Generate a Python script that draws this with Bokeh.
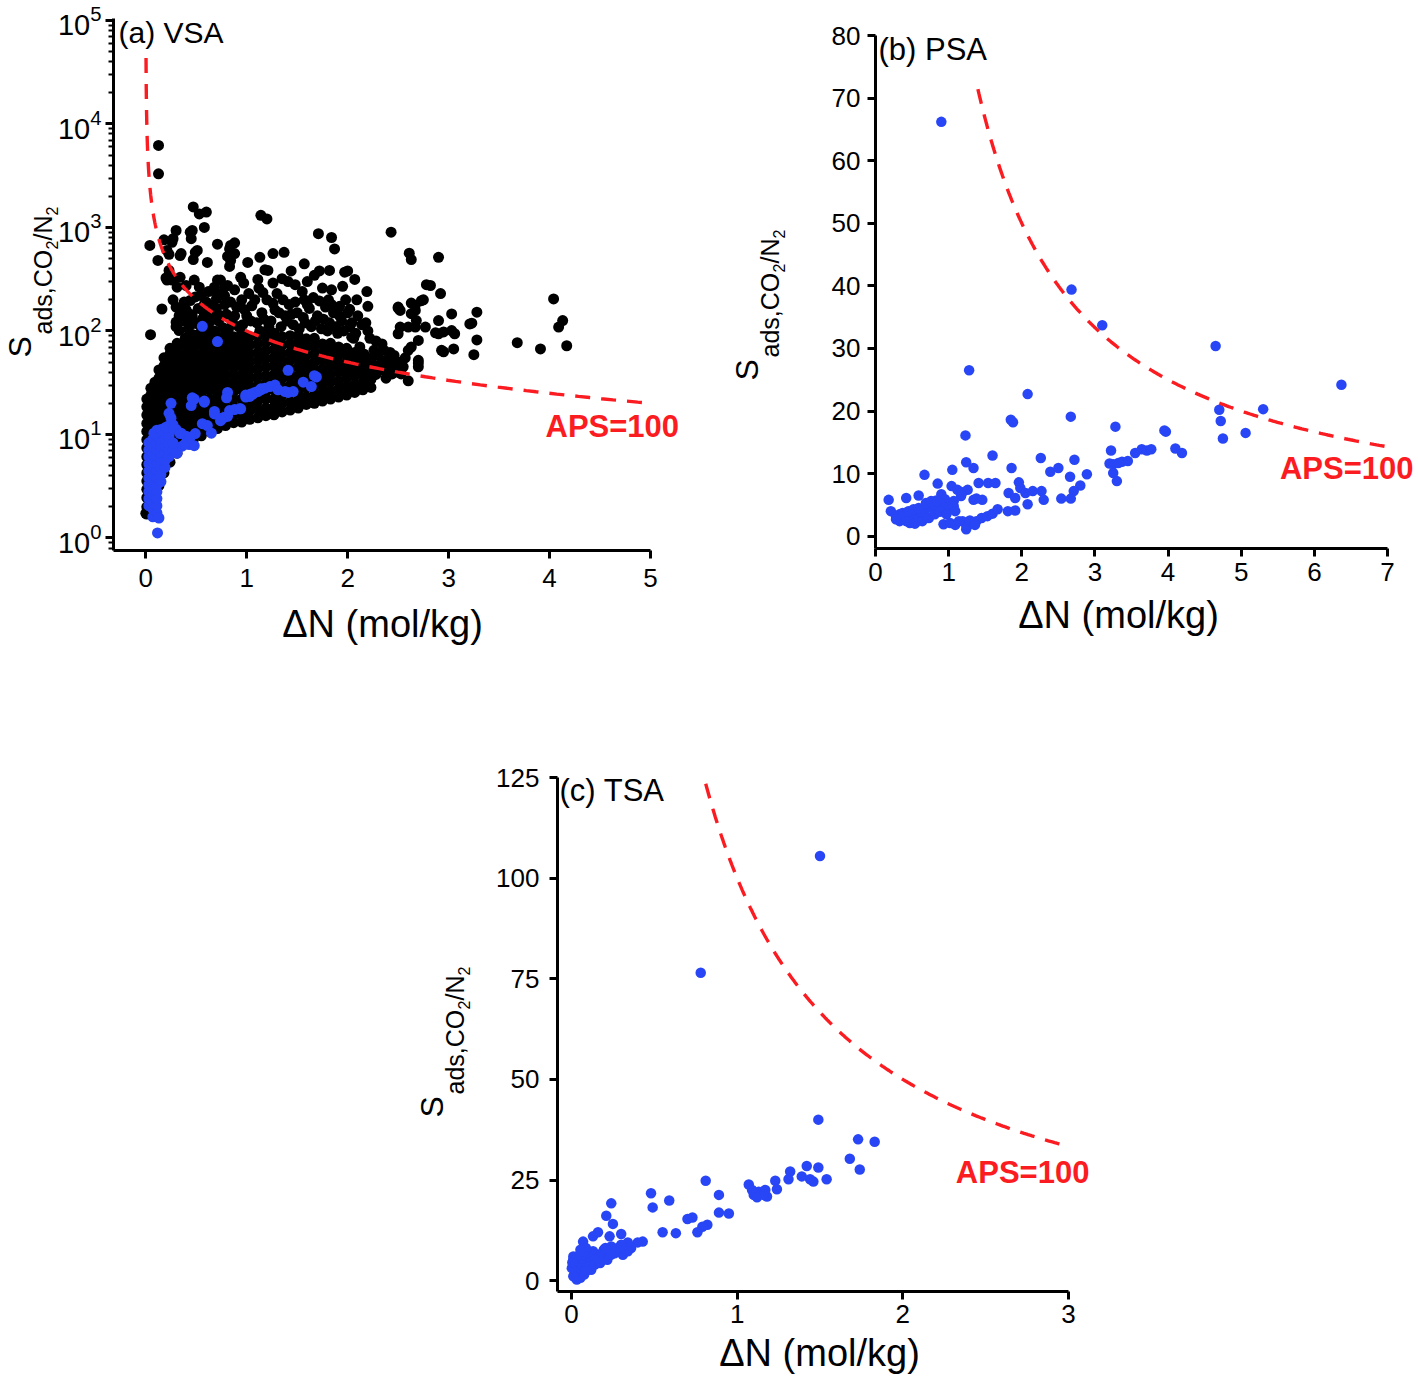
import numpy as np
from bokeh.plotting import figure
from bokeh.models import Label, Range1d, FixedTicker
from bokeh.layouts import column, row
from bokeh.embed import file_html
from bokeh.resources import INLINE

# ------------------------------------------------------------------ data
aps_level = 100.0

# (a) VSA  -- dense core of the black cloud, read column by column (dN, list of S)
vsa_core_dn = [0.01, 0.05, 0.09, 0.13, 0.18, 0.24, 0.31, 0.39, 0.47, 0.55, 0.63, 0.71, 0.79, 0.87, 0.95, 1.03,
               1.11, 1.19, 1.27, 1.35, 1.43, 1.51, 1.59, 1.67, 1.75, 1.83, 1.91, 1.99, 2.07, 2.15, 2.23]
vsa_core_s = [
    [1.7, 2.0, 2.45, 2.95, 3.55, 4.25, 5.1, 6.1, 7.4, 8.9, 10.7, 12.8, 15.4, 18.5, 22],
    [1.85, 2.2, 2.7, 3.2, 3.9, 4.65, 5.6, 6.7, 8.1, 9.7, 11.7, 14, 16.9, 20, 24, 28],
    [2.45, 2.95, 3.55, 4.25, 5.1, 6.1, 7.4, 8.9, 10.7, 12.8, 15.4, 18.5, 22, 27, 32],
    [3.2, 3.9, 4.65, 5.6, 6.7, 8.1, 9.7, 11.7, 14, 16.9, 20, 24, 29, 35, 42],
    [4.25, 5.1, 6.1, 7.4, 8.9, 10.7, 12.8, 15.4, 18.5, 22, 27, 32, 38, 46, 55],
    [5.4, 6.7, 8.1, 9.7, 11.7, 14, 16.9, 20, 24, 29, 35, 42, 50, 60, 68],
    [6.6, 7.6, 8.9, 10.7, 12.8, 15.4, 18.5, 22, 27, 32, 38, 46, 55, 66, 76],
    [8.1, 9.7, 11.7, 14, 16.9, 20, 24, 29, 35, 42, 50, 60, 73, 85],
    [8.9, 10.7, 12.8, 15.4, 18.5, 22, 27, 32, 38, 46, 55, 66, 80, 92],
    [9.7, 11.7, 14, 16.9, 20, 24, 29, 35, 42, 50, 60, 73, 88],
    [10.7, 12.8, 15.4, 18.5, 22, 27, 32, 38, 46, 55, 66, 80, 92],
    [11.4, 14, 16.9, 20, 24, 29, 35, 42, 50, 60, 73, 88],
    [12.2, 15, 18.5, 22, 27, 32, 38, 46, 55, 66, 80, 92],
    [13, 15.5, 18.5, 22, 26, 31, 37, 44, 52, 62, 74, 88],
    [13.2, 15.4, 18.5, 22, 27, 32, 38, 46, 55, 66, 80, 95],
    [14, 16.9, 20, 24, 29, 35, 42, 50, 60, 73, 88],
    [14.5, 17.5, 21, 25, 30, 36, 43, 52, 62, 75, 90],
    [15.2, 18, 22, 26, 31, 37, 45, 54, 65, 78, 93],
    [15.5, 18.5, 22, 27, 32, 38, 46, 55, 66, 80, 95],
    [16.5, 20, 24, 29, 35, 42, 50, 60, 73, 88],
    [17.2, 20.5, 25, 30, 36, 43, 52, 62, 75, 90],
    [18, 21.5, 26, 31, 37, 45, 54, 65, 78, 90],
    [19.5, 23, 28, 33, 40, 48, 58, 70, 84],
    [20, 24, 29, 35, 42, 50, 60, 72, 85],
    [21, 25, 30, 36, 43, 52, 62, 75],
    [22, 26.5, 32, 38, 46, 55, 66, 76],
    [23, 27.5, 33, 40, 48, 58, 70],
    [24, 29, 35, 42, 50, 60, 68],
    [25.5, 30.5, 37, 44, 53, 62],
    [27, 32, 39, 47, 56],
    [28.5, 34, 41, 49],
]

# (a) VSA -- black points above / around the core
vsa_black_dn = [0.30, 0.36, 0.42, 0.46, 0.50, 0.40, 0.56, 0.62, 0.66, 0.72, 0.76, 0.80, 0.86, 0.90, 0.60, 0.70, 0.84,
                0.96, 1.00, 1.05, 1.10, 1.15, 1.20, 1.24, 1.28, 1.02, 1.12, 1.30, 1.34, 1.38, 1.42, 1.46, 1.50, 1.55,
                1.58, 1.62, 1.66, 1.70, 1.74, 1.78, 1.82, 1.86, 1.90, 1.94, 1.98, 2.02, 2.06, 2.10, 2.12, 2.16, 2.20,
                2.24, 2.28, 2.32, 2.36, 2.40, 2.18,
                0.33, 0.38, 0.44, 0.52, 0.55, 0.58, 0.64, 0.68, 0.70, 0.74, 0.78, 0.82, 0.88, 0.92, 0.95, 0.98,
                1.04, 1.08, 1.13, 1.17, 1.22, 1.26, 1.32, 1.36, 1.40, 1.44, 1.48, 1.52, 1.56, 1.60, 1.64, 1.68,
                1.72, 1.76, 1.80, 1.84, 1.88, 1.92, 1.96, 2.00, 2.04, 2.08, 2.14, 2.22, 2.26, 2.30, 2.34, 2.38,
                2.42, 2.46, 0.62, 0.88, 1.16, 1.48, 1.75, 1.95, 0.55, 0.97, 1.35, 1.60, 2.28, 2.35, 2.42, 2.38,
                2.50, 2.55, 2.57,
                0.126, 0.126, 0.47, 0.53, 0.60, 0.58, 1.14, 1.20, 0.04, 0.12, 0.18, 0.27, 0.30, 0.21, 0.35, 0.46,
                0.45, 0.51, 0.47, 0.71, 0.61, 0.83, 0.88, 0.84, 1.01, 1.13, 1.21, 1.26, 1.37, 1.71, 1.84, 1.87, 1.57,
                1.67, 1.82, 1.97, 0.22, 0.31, 0.40, 0.71, 0.81, 0.94, 2.43, 2.61, 2.63, 2.90, 2.82, 2.92, 3.03, 2.73,
                2.67, 2.63, 2.68, 2.60, 2.52, 2.50, 2.77, 2.90, 2.95, 3.03, 3.06, 2.93, 3.05, 3.21, 2.70, 2.60, 2.70,
                2.60, 2.50, 2.70, 4.04, 4.13, 4.09, 4.17, 3.91, 3.68, 3.28, 3.23, 3.28, 3.25, 2.95, 2.90, 2.47, 2.53,
                2.67, 2.52, 2.50, 2.63, 0.26, 0.34, 0.44, 0.49, 0.84, 0.23, 0.21, 0.26, 0.34, 0.48, 0.53, 0.49, 0.68,
                0.74, 0.71, 0.78, 0.58, 0.16, 0.047, 0.30, 0.34, 0.39, 0.30, 0.33, 0.44, 0.64, 0.78, 0.94, 1.18, 0.88,
                0.81, 0.83, 1.11, 1.44, 1.72, 2.00, 2.07, 1.84, 1.81, 1.57, 1.41, 1.26, 2.19, 2.09, 2.20, 2.02, 1.92,
                2.50, 2.63, 2.78, 2.75, 2.87, 2.67, 2.70, 2.45, 2.44, 2.47, 2.30, 2.24, 2.14, 2.04, 0.23, 0.20, 0.27,
                0.38, 0.45, 0.0]
vsa_black_s = [110, 125, 105, 140, 118, 160, 130, 112, 150, 125, 108, 145, 120, 170, 190, 205, 190,
               115, 140, 175, 120, 150, 200, 125, 160, 230, 260, 230, 110, 140, 180, 115, 150, 240,
               120, 165, 210, 140, 105, 170, 120, 150, 95, 125, 200, 110, 85, 140, 70, 60, 100,
               55, 80, 47, 65, 40, 120,
               140, 190, 115, 165, 100, 145, 125, 100, 165, 140, 180, 105, 140, 110, 200, 160,
               125, 200, 100, 130, 110, 185, 150, 200, 125, 145, 190, 105, 135, 180, 110, 125,
               195, 130, 100, 180, 110, 140, 100, 150, 120, 95, 115, 85, 65, 58, 75, 52,
               62, 58, 240, 250, 235, 280, 260, 270, 220, 290, 320, 300, 38, 42, 47, 35,
               50, 45, 55,
               6200, 3300, 1580, 1350, 1410, 1000, 1310, 1210, 670, 480, 760, 780, 935, 600, 560, 935,
               780, 600, 490, 690, 460, 620, 560, 480, 460, 515, 385, 560, 575, 870, 800, 620, 445,
               345, 385, 370, 330, 265, 275, 310, 275, 330, 900, 565, 490, 515, 275, 230, 146, 196,
               177, 147, 126, 109, 109, 170, 109, 126, 98, 101, 94, 65, 67, 117, 81, 65, 45,
               33, 40, 52, 204, 126, 109, 72, 67, 77, 152, 119, 82, 59, 63, 94, 43, 38.5,
               158, 158, 94, 70, 720, 535, 900, 575, 670, 385, 310, 310, 330, 310, 265, 213, 265,
               310, 230, 265, 182, 163, 92, 170, 147, 131, 122, 101, 197, 177, 220, 170, 390, 710,
               525, 420, 315, 380, 380, 380, 315, 250, 200, 200, 300, 290, 240, 200, 173, 162, 173,
               166, 186, 280, 200, 96, 109, 49, 44, 38.5, 52, 45, 36, 60, 87, 550, 325, 200,
               161, 144, 1.73]

# (a) VSA -- blue points: dense low-dN cluster (columns) + band
vsa_blue_core_dn = [0.03, 0.07, 0.11, 0.15, 0.19, 0.23, 0.27]
vsa_blue_core_s = [
    [2.05, 2.4, 2.8, 3.25, 3.8, 4.45, 5.2, 6.1, 7.1, 8.3],
    [1.6, 1.9, 2.2, 2.6, 3.0, 3.5, 4.1, 4.8, 5.6, 6.6, 7.7, 9.0],
    [1.75, 2.05, 2.4, 2.8, 3.25, 3.8, 4.45, 5.2, 6.1, 7.1, 8.3, 9.7, 11],
    [3.5, 4.1, 4.8, 5.6, 6.6, 7.7, 9.0, 10.5],
    [4.8, 5.6, 6.6, 7.7, 9.0, 10.5],
    [6.1, 7.1, 8.3, 9.7],
    [7.1, 8.3],
]
vsa_blue_dn = [0.56, 0.71, 1.41, 1.67, 1.69, 1.56, 1.64, 1.46, 1.41, 1.28, 1.23, 1.18, 1.14, 1.11, 1.06, 1.03, 0.99,
               1.08, 1.31, 1.38, 0.81, 0.80, 0.58, 0.46, 0.45, 0.25, 0.23, 0.25, 0.68, 0.76, 0.81, 0.88, 0.93,
               0.56, 0.61, 0.65, 0.43, 0.48, 0.08, 0.15, 0.22, 0.27, 0.30, 0.35, 0.40, 0.36, 0.31, 0.116, 0.13,
               0.48, 0.58, 0.68, 0.78, 0.74, 0.83, 0.94, 0.99, 1.04, 1.14, 0.196, 0.28, 0.34, 0.39, 0.49, 0.44]
vsa_blue_s = [111, 79, 41.7, 37, 36, 32, 29, 26, 25.5, 30, 29, 28, 27, 26, 24.6, 23.3, 23,
              25.5, 27, 26, 25.5, 22.6, 21, 22.6, 19, 20, 16, 14.4, 16.7, 14.4, 15, 17.4, 17.7,
              12.7, 12.2, 10.3, 8.0, 7.8, 10.3, 11.2, 12, 12.4, 11.2, 10.3, 9.6, 7.7, 6.6, 1.12, 1.56,
              22, 20.5, 15.8, 14.7, 13.6, 17, 17.7, 24, 24.6, 27.6, 11.7, 11.4, 10.2, 8.1, 10.2, 9.4]

# (b) PSA
psa_dn = [0.90, 2.68, 3.10, 4.65, 6.37, 1.28, 2.08, 2.67, 1.85, 1.88, 4.70, 4.72, 4.75, 5.30, 5.06, 3.97, 3.95,
          3.28, 1.23, 3.22, 4.10, 4.19, 3.55, 3.64, 3.71, 3.77, 3.45, 3.37, 3.32, 3.25, 3.20, 3.25, 3.30, 1.60,
          2.26, 2.72, 1.24, 1.34, 1.05, 1.86, 2.39, 2.50, 2.66, 2.89, 0.67, 0.85, 1.41, 1.54, 1.64, 1.96, 1.98,
          2.05, 2.15, 2.27, 2.80, 2.71, 1.04, 1.12, 1.19, 1.26, 1.82, 1.91, 2.08, 2.30, 2.54, 2.67, 0.59, 0.42,
          0.18, 1.46, 1.34, 0.90, 0.95, 1.07, 1.00, 1.17, 1.38,
          0.21, 0.28, 0.33, 0.40, 0.47, 0.52, 0.57, 0.61, 0.66, 0.71, 0.76, 0.81, 0.88, 0.97, 1.02, 1.07, 1.09,
          0.33, 0.37, 0.45, 0.52, 0.59, 0.69, 0.76, 0.83, 0.47, 0.54, 0.64, 0.73, 0.81, 0.88, 0.97, 0.42, 0.28,
          0.93, 1.02, 1.09, 1.19, 1.24, 1.31, 1.38, 1.45, 1.53, 1.60, 1.67, 1.81, 1.91, 1.24, 1.29, 1.14, 1.36]
psa_s = [66.2, 39.4, 33.7, 30.4, 24.2, 26.5, 22.7, 19.1, 18.6, 18.2, 20.2, 18.4, 15.6, 20.3, 16.5, 16.7, 16.9,
         17.5, 16.1, 13.7, 14.0, 13.3, 13.3, 13.9, 13.7, 13.9, 12.0, 11.9, 11.7, 11.5, 11.6, 10.1, 8.8, 12.9,
         12.5, 12.2, 11.8, 10.9, 10.6, 10.9, 10.3, 10.9, 9.5, 9.9, 9.8, 8.4, 8.5, 8.5, 8.5, 8.6, 7.7,
         6.9, 7.2, 7.2, 8.1, 7.2, 8.0, 7.4, 7.0, 7.4, 6.9, 6.1, 5.1, 5.8, 6.0, 6.0, 6.5, 6.1,
         5.8, 5.8, 5.8, 6.7, 5.9, 5.6, 5.1, 6.4, 6.0,
         4.0, 3.2, 2.4, 2.7, 3.2, 2.9, 3.5, 4.0, 3.7, 4.5, 4.8, 5.0, 5.3, 4.6, 4.3, 4.8, 4.0,
         3.5, 3.7, 4.0, 4.3, 4.5, 5.3, 5.6, 5.7, 2.1, 2.0, 2.4, 2.9, 3.5, 3.9, 3.5, 2.4, 2.7,
         1.9, 2.1, 1.8, 2.4, 1.1, 2.0, 2.4, 2.9, 3.2, 3.6, 4.3, 4.0, 4.1, 1.8, 2.5, 2.4, 1.8]

# (c) TSA
tsa_dn = [1.50, 0.78, 1.49, 1.73, 1.83, 1.68, 1.74, 1.42, 1.49, 1.54, 1.46, 1.44, 1.32, 1.31, 1.39, 1.23, 1.24,
          1.07, 1.10, 1.13, 1.17, 1.18, 1.09, 1.12, 1.16, 0.81, 0.89, 0.89, 0.95, 0.48, 0.49, 0.59, 0.70, 0.73,
          0.82, 0.79, 0.76, 0.55, 0.63, 0.43, 0.40, 0.36, 0.31, 0.34, 0.24, 0.21, 0.25, 0.30, 0.23, 0.24, 0.21,
          0.16, 0.13, 0.07,
          0.011, 0.011, 0.022, 0.032, 0.043, 0.054, 0.065, 0.076, 0.087, 0.097, 0.108, 0.119, 0.130, 0.141,
          0.151, 0.162, 0.173, 0.184, 0.195, 0.205, 0.032, 0.043, 0.054, 0.065, 0.076, 0.087, 0.011, 0.032,
          0.054, 0.097, 0.119, 0.141, 0.216, 0.238, 0.260, 0.032, 0.054, 0.076, 0.011, 0.119, 0.108, 0.141,
          0.173, 0.087, 0.002, 0.005, 0.28, 0.34, 0.30]
tsa_s = [105.5, 76.5, 40.0, 35.1, 34.5, 30.3, 27.6, 28.5, 28.1, 25.2, 24.6, 25.2, 27.1, 25.2, 25.9, 24.8, 22.7,
         23.9, 21.3, 22.1, 22.5, 20.9, 22.5, 20.7, 21.3, 24.8, 21.3, 16.9, 16.7, 21.7, 18.2, 19.9, 15.3, 15.7,
         13.9, 13.4, 12.0, 12.0, 11.8, 9.7, 9.5, 8.1, 6.4, 9.5, 19.2, 16.1, 14.1, 11.6, 11.0, 8.5, 6.8,
         12.0, 11.0, 9.7,
         5.2, 3.5, 2.3, 1.5, 1.1, 1.9, 2.7, 3.5, 4.4, 5.2, 6.0, 6.8, 7.3, 6.4,
         5.6, 4.8, 6.0, 6.8, 7.7, 8.1, 4.0, 4.8, 5.6, 6.4, 7.3, 8.1, 6.0, 6.0,
         7.7, 4.0, 4.5, 5.2, 5.2, 6.4, 6.8, 0.3, 0.7, 1.5, 1.1, 2.7, 3.5, 4.0,
         4.4, 2.3, 3.1, 4.5, 8.1, 7.3, 8.9]

# APS = 100 curve: start / end of each dashed curve (dN)
vsa_curve_dn = [0.0023, 5.0]
psa_curve_dn = [1.40, 7.0]
tsa_curve_dn = [0.81, 2.98]

# axis extents and tick values
vsa_xlim = [-0.32, 5.0]
vsa_ylim_log = [-0.121, 5.019]
vsa_xticks = [0, 1, 2, 3, 4, 5]
vsa_yticks = [1, 10, 100, 1000, 10000, 100000]
psa_xlim = [0.0, 7.0]
psa_ylim = [-1.97, 80.0]
psa_xticks = [0, 1, 2, 3, 4, 5, 6, 7]
psa_yticks = [0, 10, 20, 30, 40, 50, 60, 70, 80]
tsa_xlim = [-0.0845, 3.0]
tsa_ylim = [-2.7, 125.0]
tsa_xticks = [0, 1, 2, 3]
tsa_yticks = [0, 25, 50, 75, 100, 125]

# ------------------------------------------------------------------ style helpers
FONT = "Liberation Sans"
BLUE = "#2846f5"
RED = "#fb1c22"


def flatten(cols_x, cols_y):
    xs, ys = [], []
    for cx, cy in zip(cols_x, cols_y):
        for v in cy:
            xs.append(cx)
            ys.append(v)
    return xs, ys


def extend(p0, p1, v0, v1, c0, c1):
    """pixel p0 <-> value v0, p1 <-> v1; return values at canvas pixels c0, c1"""
    k = (v1 - v0) / (p1 - p0)
    return v0 + (c0 - p0) * k, v0 + (c1 - p0) * k


def lift(size):
    # compensation for where the label text sits relative to its anchor
    return round(0.36 * size)


class Panel:
    def __init__(self, cx0, cy0, cw, ch, ax_px, ay_px, xlim, ylim, log=False):
        self.cx0, self.cy0, self.cw, self.ch = cx0, cy0, cw, ch
        xs, xe = extend(ax_px[0], ax_px[1], xlim[0], xlim[1], cx0, cx0 + cw)
        yt, yb = extend(ay_px[0], ay_px[1], ylim[1], ylim[0], cy0, cy0 + ch)
        if log:
            yr = Range1d(10 ** yb, 10 ** yt)
            ylo, yhi = 10 ** ylim[0], 10 ** ylim[1]
        else:
            yr = Range1d(yb, yt)
            ylo, yhi = ylim
        self.ylo, self.yhi = ylo, yhi
        p = figure(width=cw, height=ch, frame_width=cw, frame_height=ch, min_border=0,
                   x_range=Range1d(xs, xe), y_range=yr, y_axis_type="log" if log else "linear",
                   output_backend="svg", toolbar_location=None)
        p.xgrid.visible = False
        p.ygrid.visible = False
        p.outline_line_color = None
        p.background_fill_color = "white"
        p.border_fill_color = "white"
        p.xaxis.fixed_location = ylo
        p.xaxis.bounds = (xlim[0], xlim[1])
        p.yaxis.fixed_location = xlim[0]
        p.yaxis.bounds = (ylo, yhi)
        for ax in (p.xaxis[0], p.yaxis[0]):
            ax.axis_line_width = 3
            ax.axis_line_color = "black"
            ax.major_tick_line_width = 3
            ax.major_tick_line_color = "black"
            ax.major_tick_out = 8
            ax.major_tick_in = 0
            ax.minor_tick_line_color = None
            ax.major_label_text_font = FONT
            ax.major_label_text_font_size = "26px"
            ax.major_label_text_color = "black"
            ax.axis_label = None
        self.p = p

    def text(self, X, Y, text, size, angle=0.0, align="left", color="black", style="normal"):
        # X, Y = page pixel position of the text baseline start
        sh = lift(size)
        xo, yo = (-sh, 0) if angle else (0, sh)
        self.p.add_layout(Label(x=X - self.cx0, y=self.cy0 + self.ch - Y, x_units="screen", y_units="screen",
                                x_offset=xo, y_offset=yo, text=text, angle=angle, text_align=align,
                                text_baseline="alphabetic", text_font=FONT, text_font_size=f"{size}px",
                                text_color=color, text_font_style=style))

    def data_text(self, x, y, text, size, color, style):
        self.p.add_layout(Label(x=x, y=y, y_offset=lift(size), text=text, text_align="left",
                                text_baseline="alphabetic", text_font=FONT, text_font_size=f"{size}px",
                                text_color=color, text_font_style=style))

    def ylabel(self, xb, yb):
        pieces = [("S", 32, 0, 0), ("ads,CO", 25, 20, 23), ("2", 16, 26, 108),
                  ("/N", 25, 20, 117), ("2", 16, 26, 142)]
        for t, size, dx, dy in pieces:
            self.text(xb + dx, yb - dy, t, size, angle=np.pi / 2)

    def xlabel(self, X, Y):
        self.text(X, Y, "\u0394N (mol/kg)", 38, align="center")

    def curve(self, ends):
        xs = np.geomspace(ends[0], ends[1], 300)
        self.p.line(xs, aps_level / xs, line_color=RED, line_width=3.4, line_dash="15 11")


# ------------------------------------------------------------------ (a) VSA
A = Panel(0, 0, 700, 650, (113, 650), (18, 550), vsa_xlim, vsa_ylim_log, log=True)
pa = A.p
pa.xaxis.ticker = FixedTicker(ticks=vsa_xticks)
minor = [m * 10.0 ** k for k in range(-1, 5) for m in range(2, 10) if A.ylo <= m * 10.0 ** k <= A.yhi]
pa.yaxis.ticker = FixedTicker(ticks=vsa_yticks, minor_ticks=minor)
pa.yaxis.minor_tick_line_color = "black"
pa.yaxis.minor_tick_line_width = 2
pa.yaxis.minor_tick_out = 5
pa.yaxis.minor_tick_in = 0
pa.yaxis.major_label_text_font_size = "29px"
pa.yaxis.major_label_standoff = 4
pa.xaxis.major_label_standoff = 10

cx, cy = flatten(vsa_core_dn, vsa_core_s)
pa.scatter(cx + vsa_black_dn, cy + vsa_black_s, size=11, fill_color="black", line_color=None)
bx, by = flatten(vsa_blue_core_dn, vsa_blue_core_s)
pa.scatter(bx + vsa_blue_dn, by + vsa_blue_s, size=11, fill_color=BLUE, line_color=None)
A.curve(vsa_curve_dn)
A.data_text(3.96, 9.4, "APS=100", 31, RED, "bold")
A.text(118, 43, "(a) VSA", 30)
A.ylabel(31, 357)
A.xlabel(382, 637)

# ------------------------------------------------------------------ (b) PSA
B = Panel(700, 0, 716, 650, (875, 1387), (35, 548), psa_xlim, psa_ylim)
pb = B.p
pb.xaxis.ticker = FixedTicker(ticks=psa_xticks)
pb.yaxis.ticker = FixedTicker(ticks=psa_yticks)
pb.xaxis.major_label_standoff = 6
pb.yaxis.major_label_standoff = 7
pb.scatter(psa_dn, psa_s, size=10.5, fill_color=BLUE, line_color=None)
B.curve(psa_curve_dn)
B.data_text(5.53, 9.0, "APS=100", 31, RED, "bold")
B.text(878, 60, "(b) PSA", 31)
B.ylabel(758, 380)
B.xlabel(1118, 628)

# ------------------------------------------------------------------ (c) TSA
C = Panel(0, 650, 1130, 728, (557, 1068), (777, 1291), tsa_xlim, tsa_ylim)
pc = C.p
pc.xaxis.ticker = FixedTicker(ticks=tsa_xticks)
pc.yaxis.ticker = FixedTicker(ticks=tsa_yticks)
pc.xaxis.major_label_standoff = 5
pc.yaxis.major_label_standoff = 10
pc.scatter(tsa_dn, tsa_s, size=10.5, fill_color=BLUE, line_color=None)
C.curve(tsa_curve_dn)
C.data_text(2.32, 24.1, "APS=100", 31, RED, "bold")
C.text(559, 801, "(c) TSA", 31)
C.ylabel(443, 1117)
C.xlabel(819, 1366)

layout = column(row(pa, pb), pc)
open("out.html", "w").write(file_html(layout, INLINE))
